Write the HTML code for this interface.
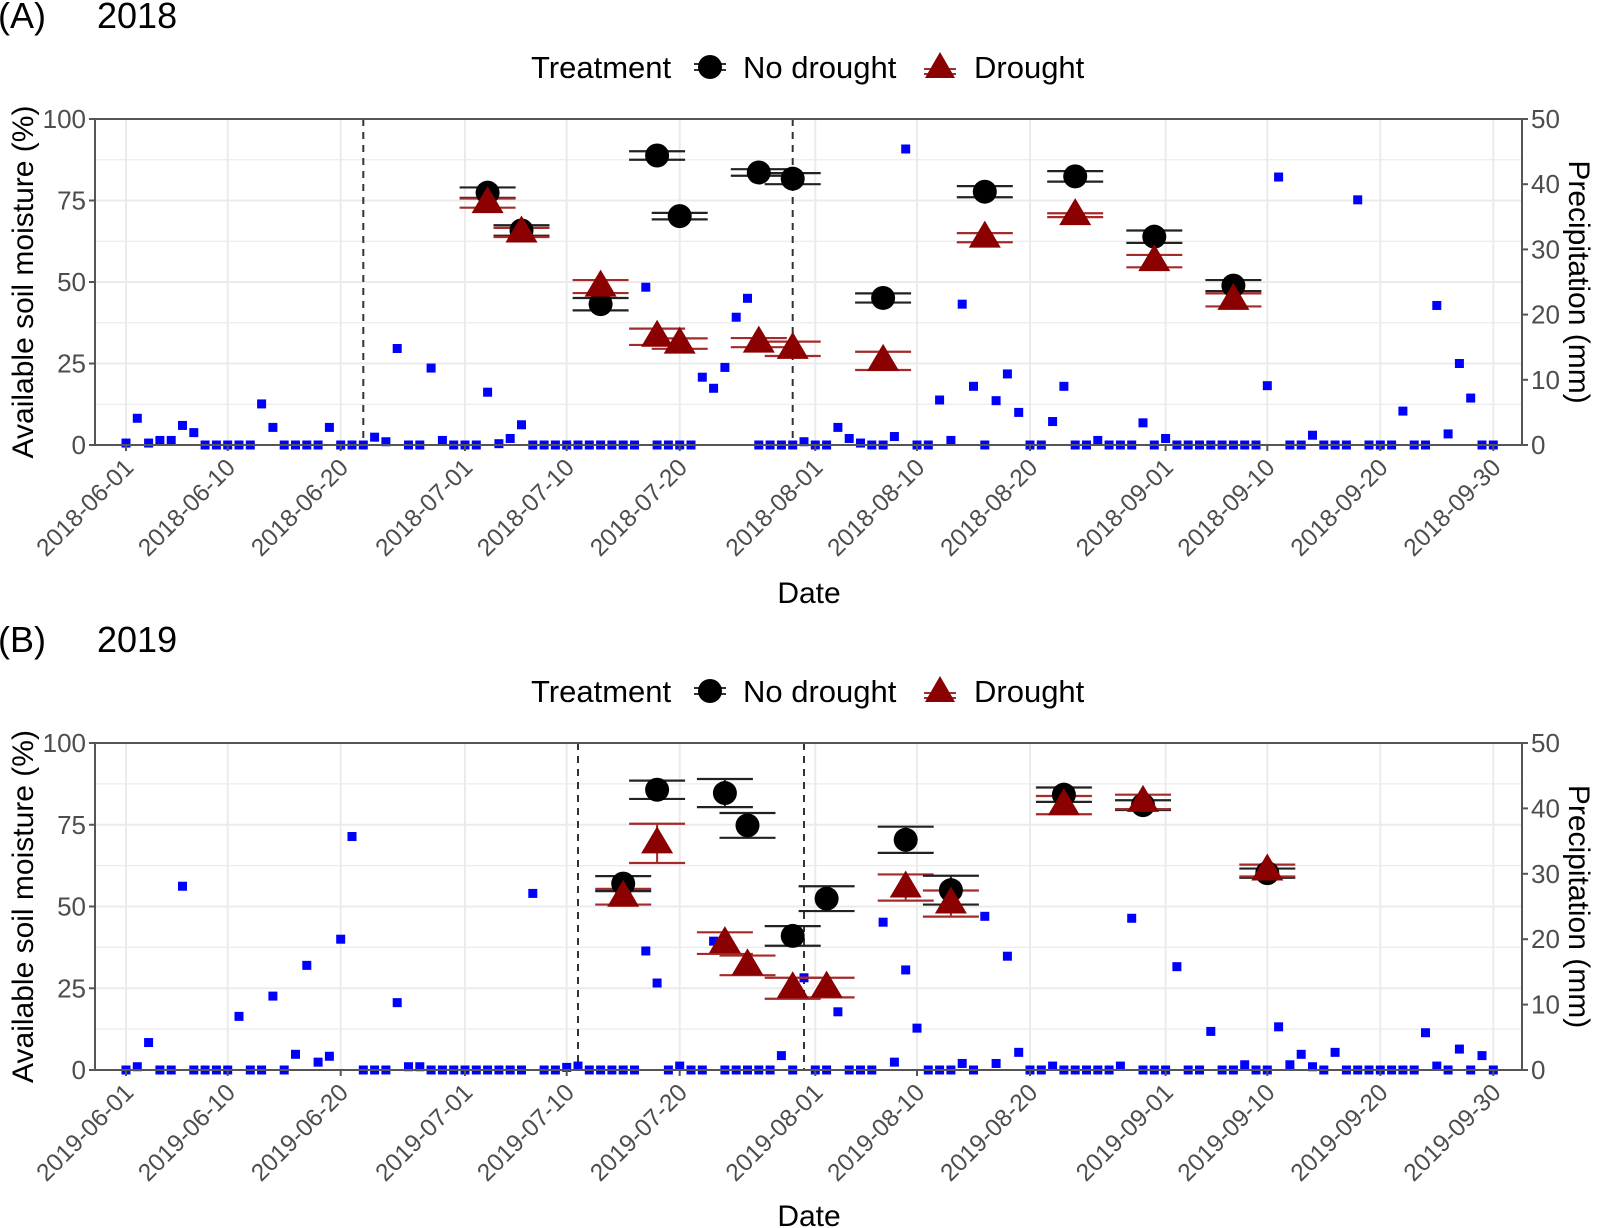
<!DOCTYPE html>
<html><head><meta charset="utf-8"><style>
html,body{margin:0;padding:0;background:#fff;}
svg{display:block;font-family:"Liberation Sans",Arial,sans-serif;}
</style></head><body>
<svg id="chart" width="1599" height="1228" viewBox="0 0 1599 1228" xmlns="http://www.w3.org/2000/svg"></svg>
<script>
// ---------- data ----------
const dateTicksA = ["2018-06-01","2018-06-10","2018-06-20","2018-07-01","2018-07-10","2018-07-20","2018-08-01","2018-08-10","2018-08-20","2018-09-01","2018-09-10","2018-09-20","2018-09-30"];
const dateTicksB = ["2019-06-01","2019-06-10","2019-06-20","2019-07-01","2019-07-10","2019-07-20","2019-08-01","2019-08-10","2019-08-20","2019-09-01","2019-09-10","2019-09-20","2019-09-30"];
const tickDays = [0,9,19,30,39,49,61,70,80,92,101,111,121];
const moistTicks = [0,25,50,75,100];
const precipTicks = [0,10,20,30,40,50];

// 2018 (day index from June 1)
const daysA = [32,35,42,47,49,56,59,67,76,84,91,98];
const noDroughtA = [77.4,65.8,43.2,88.8,70.2,83.6,81.7,45.1,77.7,82.4,63.9,48.9];
const noDroughtSeA = [1.6,1.6,1.9,1.3,1.0,1.0,1.7,1.4,1.7,1.6,1.9,1.7];
const droughtA = [74.2,65.2,48.6,33.2,31.1,31.4,29.5,25.8,63.6,70.5,56.4,44.5];
const droughtSeA = [1.4,1.4,2.0,2.5,1.6,1.4,2.2,2.8,1.4,0.6,1.9,2.0];
const precipA = [0.3,4.1,0.3,0.7,0.7,3.0,1.9,0,0,0,0,0,6.3,2.7,0,0,0,0,2.7,0,0,0,1.2,0.5,14.8,0,0,11.8,0.7,0,0,0,8.1,0.2,1.0,3.1,0,0,0,0,0,0,0,0,0,0,24.2,0,0,0,0,10.4,8.7,11.9,19.6,22.5,0,0,0,0,0.5,0,0,2.7,1.0,0.3,0,0,1.3,45.4,0,0,6.9,0.7,21.6,9.0,0,6.8,10.9,5.0,0,0,3.6,9.0,0,0,0.7,0,0,0,3.4,0,1.0,0,0,0,0,0,0,0,0,9.1,41.1,0,0,1.5,0,0,0,37.6,0,0,0,5.2,0,0,21.4,1.7,12.5,7.2,0,0];
const droughtStartA = [21, 59];

// 2019
const daysB = [44,47,53,55,59,62,69,73,83,90,101];
const noDroughtB = [57,85.7,84.7,74.8,41,52.4,70.4,55,84.2,81,60.2];
const noDroughtSeB = [2.3,2.8,4.3,3.8,3,3.8,4,4.4,2.2,1.5,1.4];
const droughtB = [53,69.3,38.8,32,25,25.2,55.8,50.9,81,82,61];
const droughtSeB = [2.4,6,3.3,3,3.2,3,4,4,2.8,2.2,1.8];
const precipB = [0,0.5,4.2,0,0,28.1,0,0,0,0,8.2,0,0,11.3,0,2.4,16.0,1.2,2.1,20.0,35.7,0,0,0,10.3,0.5,0.5,0,0,0,0,0,0,0,0,0,27.0,0,0,0.4,0.6,0,0,0,0,0,18.2,13.3,0,0.6,0,0,19.7,0,0,0,0,0,2.2,0,14.1,0,0,8.9,0,0,0,22.6,1.2,15.3,6.4,0,0,0,1.0,0,23.5,1.0,17.4,2.7,0,0,0.6,0,0,0,0,0,0.6,23.2,0,0,0,15.8,0,0,5.9,0,0,0.8,0,0,6.6,0.8,2.4,0.5,0,2.7,0,0,0,0,0,0,0,5.7,0.6,0,3.2,0,2.2,0];
const droughtStartB = [40, 60];

// ---------- drawing ----------
const NS = "http://www.w3.org/2000/svg";
const svg = document.getElementById('chart');
function el(tag, attrs, parent, text){
  const e = document.createElementNS(NS, tag);
  for (const k in attrs) e.setAttribute(k, attrs[k]);
  if (text !== undefined) e.textContent = text;
  (parent || svg).appendChild(e);
  return e;
}
const L = 95, R = 1522;
const xScale = d => 126 + d * 11.3;

function drawPanel(top, bottom, letter, year, ticks, days, nd, ndSe, dr, drSe, precip, dashes, legendY, dateY, key){
  const g = el('g', {});
  
  
  const yM = v => bottom - v / 100 * (bottom - top);
  const yP = v => bottom - v / 50 * (bottom - top);

  let t = el('text', {x:-2, y:top-91, 'font-size':36, fill:'#000'}, g, '(' + letter + ')');
   
  t = el('text', {x:97, y:top-91, 'font-size':36, fill:'#000'}, g, year);
   

  // legend
  const lg = el('g', {}, g);
   
  t = el('text', {x:531, y:legendY+11, 'font-size':31, fill:'#000'}, lg, 'Treatment');
   
  el('line', {x1:694, x2:726, y1:legendY-3, y2:legendY-3, stroke:'#333', 'stroke-width':2}, lg);
  el('line', {x1:694, x2:726, y1:legendY+3, y2:legendY+3, stroke:'#333', 'stroke-width':2}, lg);
  const lc = el('circle', {cx:710, cy:legendY, r:12, fill:'#000'}, lg);
   
  t = el('text', {x:743, y:legendY+11, 'font-size':31, fill:'#000'}, lg, 'No drought');
   
  el('line', {x1:924, x2:956, y1:legendY+2, y2:legendY+2, stroke:'#a03030', 'stroke-width':2}, lg);
  el('line', {x1:924, x2:956, y1:legendY+7, y2:legendY+7, stroke:'#a03030', 'stroke-width':2}, lg);
  const lt = el('polygon', {points:`${940},${legendY-15} ${925},${legendY+11} ${955},${legendY+11}`, fill:'#8b0000'}, lg);
   
  t = el('text', {x:974, y:legendY+11, 'font-size':31, fill:'#000'}, lg, 'Drought');
   

  // grid
  const grid = el('g', {}, g);
   
  for (let v = 0; v <= 100; v += 12.5) {
    el('line', {x1:L, x2:R, y1:yM(v), y2:yM(v), stroke:'#ebebeb', 'stroke-width': (v % 25 === 0) ? 2 : 1.2}, grid);
  }
  tickDays.forEach(d => el('line', {x1:xScale(d), x2:xScale(d), y1:top, y2:bottom, stroke:'#ebebeb', 'stroke-width':2}, grid));

  // dashed lines
  dashes.forEach(d => {
    const ln = el('line', {x1:xScale(d), x2:xScale(d), y1:top, y2:bottom, stroke:'#333', 'stroke-width':2, 'stroke-dasharray':'7,6'}, g);
     
  });

  // precipitation squares
  const pg = el('g', {}, g);
   
  precip.forEach((v, i) => {
    if (v === null) return;
    const r = el('rect', {x:xScale(i)-4.5, y:yP(v)-4.5, width:9, height:9, fill:'#0000ff'}, pg);
     
  });

  // error bars + points
  const sg = el('g', {}, g);
   
  days.forEach((d, i) => {
    const x = xScale(d);
    [[nd[i], ndSe[i], '#222'], [dr[i], drSe[i], '#a52a2a']].forEach(([v, s, c]) => {
      el('line', {x1:x, x2:x, y1:yM(v+s), y2:yM(v-s), stroke:c, 'stroke-width':2}, sg);
      el('line', {x1:x-28, x2:x+28, y1:yM(v+s), y2:yM(v+s), stroke:c, 'stroke-width':2.2}, sg);
      el('line', {x1:x-28, x2:x+28, y1:yM(v-s), y2:yM(v-s), stroke:c, 'stroke-width':2.2}, sg);
    });
  });
  days.forEach((d, i) => {
    const x = xScale(d);
    const c = el('circle', {cx:x, cy:yM(nd[i]), r:12, fill:'#000'}, sg);
     
  });
  days.forEach((d, i) => {
    const x = xScale(d), y = yM(dr[i]);
    const p = el('polygon', {points:`${x},${y-17} ${x-16},${y+10} ${x+16},${y+10}`, fill:'#8b0000'}, sg);
     
  });

  // frame
  const fr = el('rect', {x:L, y:top, width:R-L, height:bottom-top, fill:'none', stroke:'#555', 'stroke-width':2}, g);
   

  // left axis
  const la = el('g', {}, g);
   
  moistTicks.forEach(v => {
    el('line', {x1:L-6, x2:L, y1:yM(v), y2:yM(v), stroke:'#555', 'stroke-width':2}, la);
    el('text', {x:L-9, y:yM(v)+9, 'font-size':26, fill:'#4d4d4d', 'text-anchor':'end'}, la, String(v));
  });
  const cy = (top+bottom)/2;
  t = el('text', {x:0, y:0, 'font-size':30, fill:'#000', 'text-anchor':'middle', transform:`translate(33,${cy}) rotate(-90)`}, g, 'Available soil moisture (%)');
   

  // right axis
  const ra = el('g', {}, g);
   
  precipTicks.forEach(v => {
    el('line', {x1:R, x2:R+6, y1:yP(v), y2:yP(v), stroke:'#555', 'stroke-width':2}, ra);
    el('text', {x:R+9, y:yP(v)+9, 'font-size':26, fill:'#4d4d4d'}, ra, String(v));
  });
  t = el('text', {x:0, y:0, 'font-size':30, fill:'#000', 'text-anchor':'middle', transform:`translate(1569,${cy}) rotate(90)`}, g, 'Precipitation (mm)');
   

  // x axis
  const xa = el('g', {}, g);
   
  tickDays.forEach((d, i) => {
    const x = xScale(d);
    el('line', {x1:x, x2:x, y1:bottom, y2:bottom+6, stroke:'#555', 'stroke-width':2}, xa);
    el('text', {x:0, y:0, 'font-size':24.5, fill:'#4d4d4d', 'text-anchor':'end', transform:`translate(${x+9},${bottom+24}) rotate(-45)`}, xa, ticks[i]);
  });
  t = el('text', {x:809, y:dateY, 'font-size':30, fill:'#000', 'text-anchor':'middle'}, g, 'Date');
   
}

drawPanel(119, 445, 'A', '2018', dateTicksA, daysA, noDroughtA, noDroughtSeA, droughtA, droughtSeA, precipA, droughtStartA, 67, 603, '2018');
drawPanel(743, 1070, 'B', '2019', dateTicksB, daysB, noDroughtB, noDroughtSeB, droughtB, droughtSeB, precipB, droughtStartB, 691, 1226, '2019');
</script>
</body></html>
